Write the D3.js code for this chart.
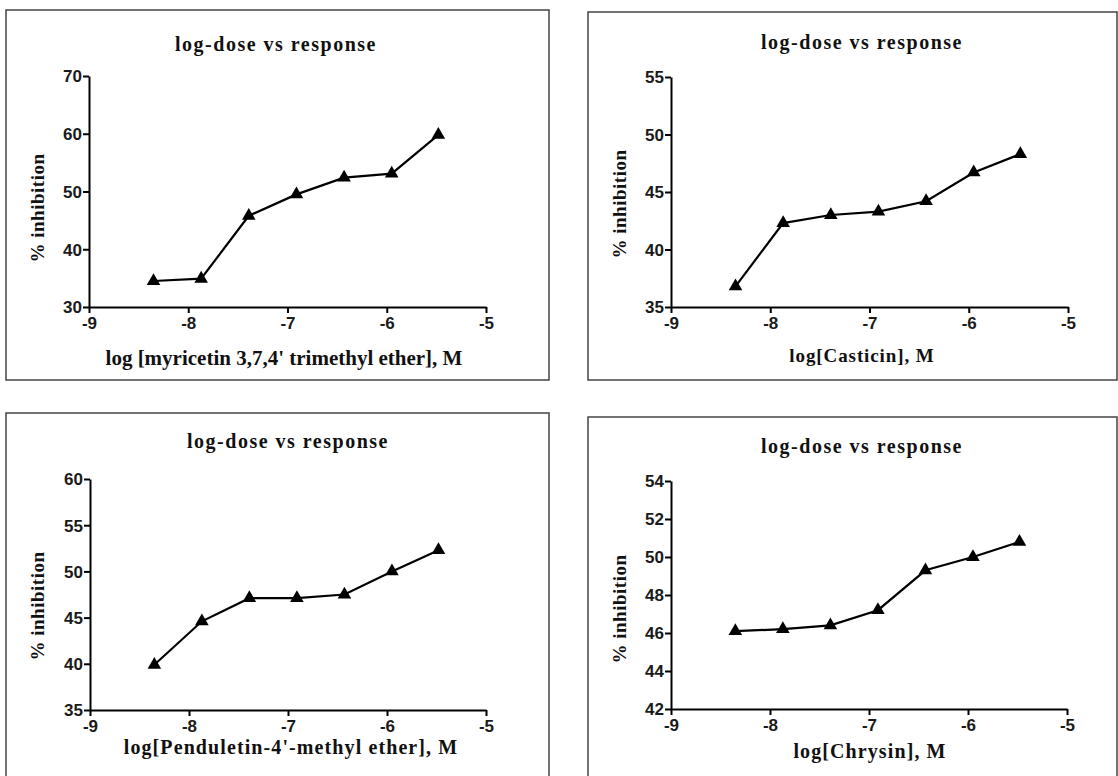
<!DOCTYPE html>
<html>
<head>
<meta charset="utf-8">
<script src="https://cdn.jsdelivr.net/npm/d3@7"></script>
<style>
  body { margin: 0; background: #fff; }
  svg { display: block; }
  .titulo, .etiqueta { font-family: "Liberation Serif", "Times New Roman", serif; font-weight: bold; fill: #111; }
</style>
</head>
<body>
<svg id="grafico" width="1118" height="776"></svg>
<script>
// valores
const dosis = [-8.35, -7.87, -7.39, -6.91, -6.43, -5.95, -5.48];
const xTicks = [-9, -8, -7, -6, -5];

const myricetin = [34.5, 34.9, 45.8, 49.5, 52.4, 53.1, 59.8];
const casticin = [36.8, 42.3, 43.0, 43.3, 44.2, 46.7, 48.3];
const penduletin = [39.9, 44.6, 47.1, 47.1, 47.5, 50.0, 52.3];
const chrysin = [46.1, 46.2, 46.4, 47.2, 49.3, 50.0, 50.8];

const ticksMyricetin = [30, 40, 50, 60, 70];
const ticksCasticin = [35, 40, 45, 50, 55];
const ticksPenduletin = [35, 40, 45, 50, 55, 60];
const ticksChrysin = [42, 44, 46, 48, 50, 52, 54];

const titulo = "log-dose vs response";
const etiquetaX = ["log [myricetin 3,7,4' trimethyl ether], M", "log[Casticin], M", "log[Penduletin-4'-methyl ether], M", "log[Chrysin], M"];

const paneles = [
    {valores: myricetin, ticks: ticksMyricetin, caja: [6, 10, 549, 380], x: [89, 486], y: [307, 76], tituloX: 276, tituloY: 51, labX: 284, labY: 365, labTam: 21, labEsp: 0, yLabX: 44, yLabY: 208},
    {valores: casticin, ticks: ticksCasticin, caja: [588, 12, 1117, 380], x: [671, 1068], y: [307, 77], tituloX: 862, tituloY: 49, labX: 862, labY: 362, labTam: 19, labEsp: 0.9, yLabX: 626, yLabY: 204},
    {valores: penduletin, ticks: ticksPenduletin, caja: [6, 413, 549, 800], x: [90, 486], y: [710, 479], tituloX: 288, tituloY: 448, labX: 291, labY: 754, labTam: 20, labEsp: 1.1, yLabX: 44, yLabY: 606},
    {valores: chrysin, ticks: ticksChrysin, caja: [588, 417, 1117, 800], x: [671, 1067], y: [709, 481], tituloX: 862, tituloY: 453, labX: 870, labY: 758, labTam: 20, labEsp: 1.1, yLabX: 626, yLabY: 609}
];

let svg = d3.select("#grafico");

paneles.forEach((p, i) => {
    let g = svg.append("g");

    g.append("rect")
        .attr("x", p.caja[0])
        .attr("y", p.caja[1])
        .attr("width", p.caja[2] - p.caja[0])
        .attr("height", p.caja[3] - p.caja[1])
        .style("fill", "none")
        .style("stroke", "#444")
        .style("stroke-width", 1.5);

    let x = d3.scaleLinear().domain([-9, -5]).range(p.x);
    let y = d3.scaleLinear().domain(d3.extent(p.ticks)).range(p.y);

    let ejeX = g.append("g")
        .attr("transform", `translate(0,${p.y[0]})`)
        .call(d3.axisBottom(x).tickValues(xTicks).tickSize(6).tickSizeOuter(0).tickFormat(d3.format("d")));
    let ejeY = g.append("g")
        .attr("transform", `translate(${p.x[0]},0)`)
        .call(d3.axisLeft(y).tickValues(p.ticks).tickSize(6).tickSizeOuter(0).tickFormat(d3.format("d")));

    [ejeX, ejeY].forEach(eje => {
        eje.select(".domain").style("stroke", "#000").style("stroke-width", 2);
        eje.selectAll(".tick line").style("stroke", "#000").style("stroke-width", 2);
        eje.selectAll(".tick text")
            .style("font-family", "'Liberation Sans', Arial, sans-serif")
            .style("font-weight", "bold")
            .style("font-size", "17px")
            .style("fill", "#1a1a1a");
    });
    ejeX.selectAll(".tick text").attr("y", 8).attr("dy", "0.8em").text(d => String(d).replace("\u2212", "-"));
    ejeY.selectAll(".tick text").attr("x", -7).attr("dy", "0.35em");

    let puntos = dosis.map((d, j) => ({x: d, y: p.valores[j]}));

    g.append("path")
        .datum(puntos)
        .attr("d", d3.line().x(d => x(d.x)).y(d => y(d.y)))
        .style("fill", "none")
        .style("stroke", "#000")
        .style("stroke-width", 2.2);

    g.selectAll(".punto")
        .data(puntos)
        .enter()
        .append("path")
        .attr("transform", d => `translate(${x(d.x)},${y(d.y)})`)
        .attr("d", d3.symbol(d3.symbolTriangle, 80))
        .style("fill", "#000");

    g.append("text")
        .attr("class", "titulo")
        .attr("x", p.tituloX)
        .attr("y", p.tituloY)
        .attr("text-anchor", "middle")
        .style("font-size", "20px")
        .style("letter-spacing", "1.5px")
        .text(titulo);

    g.append("text")
        .attr("class", "etiqueta")
        .attr("x", p.labX)
        .attr("y", p.labY)
        .attr("text-anchor", "middle")
        .style("font-size", p.labTam + "px")
        .style("letter-spacing", p.labEsp + "px")
        .text(etiquetaX[i]);

    g.append("text")
        .attr("class", "etiqueta")
        .attr("transform", `translate(${p.yLabX},${p.yLabY}) rotate(-90)`)
        .attr("text-anchor", "middle")
        .style("font-size", "19px")
        .style("letter-spacing", "0.5px")
        .text("% inhibition");
});
</script>
</body>
</html>
